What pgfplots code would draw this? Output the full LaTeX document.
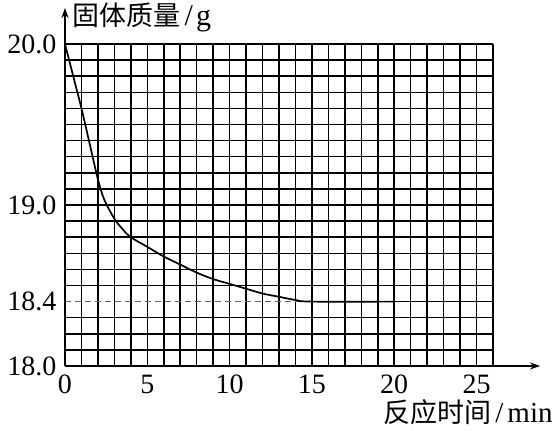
\documentclass[border=0pt]{standalone}
\usepackage{fontspec}
\setmainfont{Liberation Serif}
\newfontfamily\cjk{Noto Sans CJK SC}
\usepackage{pgfplots}
\pgfplotsset{compat=1.18}
\usetikzlibrary{arrows.meta}

\begin{document}
\begin{tikzpicture}
\begin{axis}[
  scale only axis, width=214pt, height=161pt,
  xmin=0, xmax=26, ymin=18, ymax=20,
  axis line style={draw=none},
  major tick length=0pt, minor tick length=0pt,
  xtick={0,5,10,15,20,25},
  ytick={18,18.4,19,20},
  minor xtick={0,1,2,3,4,5,6,7,8,9,10,11,12,13,14,15,16,17,18,19,20,21,22,23,24,25,26},
  minor ytick={18,18.1,18.2,18.3,18.5,18.6,18.7,18.8,18.9,19,19.1,19.2,19.3,19.4,19.5,19.6,19.7,19.8,19.9,20},
  xmajorgrids=false, ymajorgrids=false,
  xminorgrids=true, yminorgrids=true,
  minor grid style={black, line width=0.75pt},
  yticklabel style={xshift=-0.8pt, /pgf/number format/.cd, fixed, fixed zerofill, precision=1},
  /pgf/number format/assume math mode=true,
  tick label style={font=\fontsize{14}{16}\selectfont},
  xticklabel style={yshift=-1pt},
  clip=false,
  xlabel={{\cjk\fontsize{13.5}{15}\selectfont 反应时间}\kern2pt/\kern2pt min},
  every axis x label/.style={at={(rel axis cs:0.743,0)}, anchor=west, inner sep=0pt, yshift=-23pt, font=\fontsize{14.5}{16}\selectfont},
  ylabel={{\cjk\fontsize{13.5}{15}\selectfont 固体质量}\kern2pt/\kern1.5pt g},
  every axis y label/.style={at={(rel axis cs:0.017,1.082)}, anchor=west, inner sep=0pt, font=\fontsize{15}{16}\selectfont},
]
\draw[black, line width=0.75pt] (axis cs:15,18.4) -- (axis cs:26,18.4);
\draw[black!60, line width=0.75pt, dash pattern=on 3pt off 2pt] (axis cs:0,18.4) -- (axis cs:15,18.4);
\addplot[black, line width=0.85pt, smooth, tension=0.6] coordinates {
  (0,20.0) (0.5,19.8) (1,19.6) (1.5,19.38) (1.8,19.245) (2.05,19.14) (2.4,19.03)
  (3,18.915) (3.5,18.85) (4,18.80) (5,18.74) (6,18.68) (7,18.63) (8,18.58)
  (9,18.54) (10,18.51) (11,18.48) (12,18.45) (13,18.43) (14,18.41) (15,18.40) (20,18.40)
};
\coordinate (O) at (axis cs:0,18);
\end{axis}
\draw[line width=0.9pt, -{Stealth[length=5pt,width=3.5pt]}] (O) -- ++(237.5pt,0);
\draw[line width=0.9pt, -{Stealth[length=5pt,width=3.5pt]}] (O) -- ++(0,179pt);
\path[use as bounding box] ([shift={(-32.5pt,-32.5pt)}]O) rectangle ([shift={(247.5pt,183pt)}]O);
\end{tikzpicture}
\end{document}
